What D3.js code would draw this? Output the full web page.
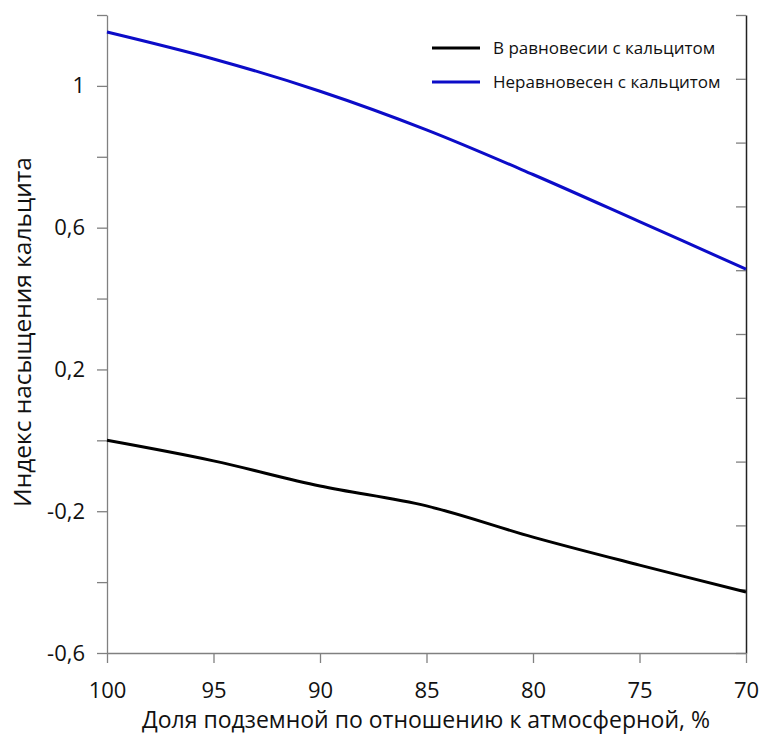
<!DOCTYPE html>
<html lang="ru">
<head>
<meta charset="UTF-8">
<title>Индекс насыщения кальцита</title>
<script src="https://d3js.org/d3.v7.min.js"></script>
<style>
  body { margin: 0; background: #fff; }
  svg { font-family: "Open Sans", sans-serif; }
</style>
</head>
<body>
<script>
// x values: proportion of underground to atmospheric, %
const share = [100, 95, 90, 85, 80, 75, 70];
// saturation index, equilibrium with calcite
const equil = [0.0, -0.058, -0.129, -0.185, -0.273, -0.352, -0.428];
// saturation index, non-equilibrium with calcite
const nonEquil = [1.152, 1.076, 0.985, 0.876, 0.75, 0.617, 0.483];

const yTicks = [-0.6, -0.4, -0.2, 0, 0.2, 0.4, 0.6, 0.8, 1, 1.2];
const yLabels = [-0.6, -0.2, 0.2, 0.6, 1];
const xTicks = [100, 95, 90, 85, 80, 75, 70];
const seriesNames = ["В равновесии с кальцитом", "Неравновесен с кальцитом"];
const seriesColors = ["#000000", "#0c0cc8"];

const w = 763, h = 735;
const plotLeft = 107, plotRight = 746, plotTop = 15, plotBottom = 653;

const svg = d3.select("body").append("svg")
  .attr("width", w).attr("height", h);

const x = d3.scaleLinear().domain([100, 70]).range([plotLeft, plotRight]);
const y = d3.scaleLinear().domain([-0.6, 1.2]).range([plotBottom, plotTop]);
// right axis: 10 plain divisions, no labels
const y2 = d3.scaleLinear().domain([0, 10]).range([plotBottom, plotTop]);

const fmt = d => String(d).replace(".", ",");

// left axis
const yAxis = d3.axisLeft(y).tickValues(yTicks).tickSize(10).tickSizeOuter(0)
  .tickFormat(d => yLabels.some(v => Math.abs(v - d) < 1e-9) ? fmt(d) : "");
const gy = svg.append("g").attr("transform", `translate(${plotLeft},0)`).call(yAxis);
gy.selectAll("path, line").attr("stroke", "#808080").attr("stroke-width", 1.3);
gy.selectAll("text").attr("font-size", 22).attr("fill", "#111").attr("x", -22)
  .style("font-family", "Open Sans");

// right axis, ticks inward
const y2Axis = d3.axisLeft(y2).ticks(10).tickSize(10).tickSizeOuter(0).tickFormat("");
const gy2 = svg.append("g").attr("transform", `translate(${plotRight},0)`).call(y2Axis);
gy2.selectAll("line").attr("stroke", "#808080").attr("stroke-width", 1.3);
gy2.select("path").attr("stroke", "#222").attr("stroke-width", 1.5);

// bottom axis
const xAxis = d3.axisBottom(x).tickValues(xTicks).tickSize(10).tickSizeOuter(0)
  .tickFormat(d => d);
const gx = svg.append("g").attr("transform", `translate(0,${plotBottom})`).call(xAxis);
gx.selectAll("path, line").attr("stroke", "#808080").attr("stroke-width", 1.3);
gx.selectAll("text").attr("font-size", 22).attr("fill", "#111").attr("y", 29)
  .style("font-family", "Open Sans");

// lines
const line = d3.line()
  .x((d, i) => x(share[i]))
  .y(d => y(d))
  .curve(d3.curveCatmullRom);

[equil, nonEquil].forEach((s, k) => {
  svg.append("path")
    .datum(s)
    .attr("fill", "none")
    .attr("stroke", seriesColors[k])
    .attr("stroke-width", 3)
    .attr("d", line);
});

// axis titles
svg.append("text")
  .attr("x", 426).attr("y", 728)
  .attr("text-anchor", "middle")
  .attr("font-size", 23).attr("fill", "#111")
  .text("Доля подземной по отношению к атмосферной, %");

svg.append("text")
  .attr("transform", `translate(31,332) rotate(-90)`)
  .attr("text-anchor", "middle")
  .attr("font-size", 24.5).attr("fill", "#111")
  .text("Индекс насыщения кальцита");

// legend
const lg = svg.append("g").attr("transform", "translate(432,48)");
seriesNames.forEach((name, k) => {
  const row = lg.append("g").attr("transform", `translate(0,${k * 34})`);
  row.append("line").attr("x1", 0).attr("x2", 48).attr("y1", 0).attr("y2", 0)
    .attr("stroke", seriesColors[k]).attr("stroke-width", 3);
  row.append("text").attr("x", 61).attr("y", 6)
    .attr("font-size", 17).attr("fill", "#111").text(name);
});
</script>
</body>
</html>
